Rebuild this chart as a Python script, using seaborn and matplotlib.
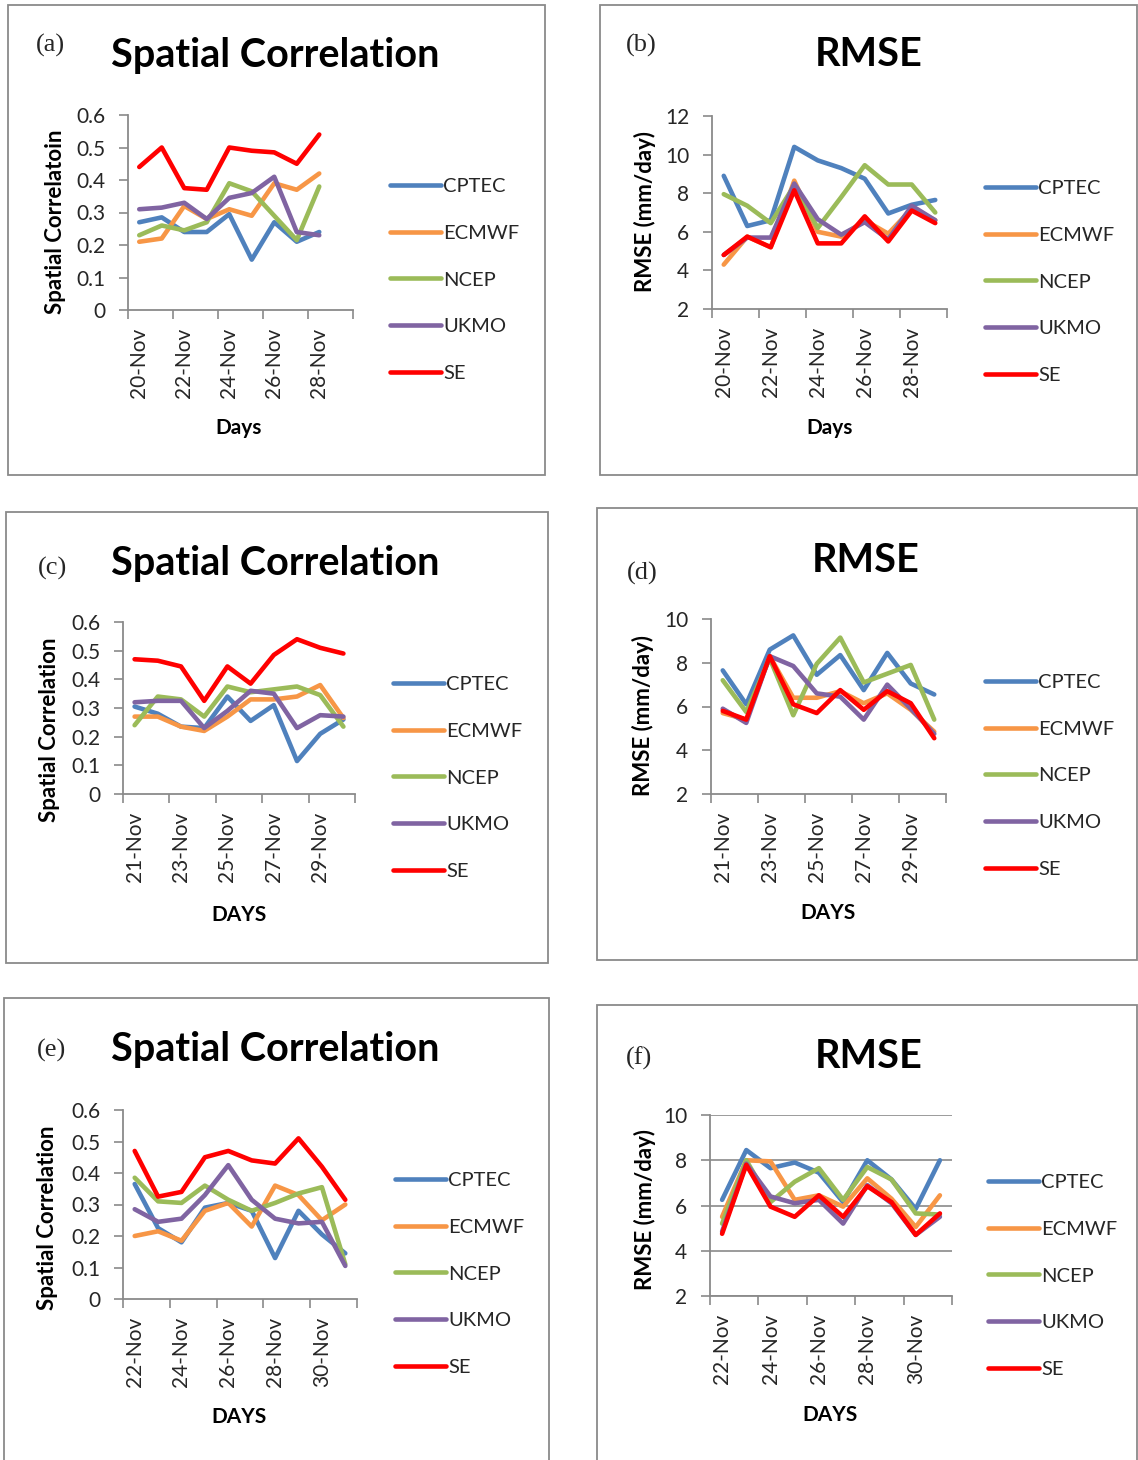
import matplotlib
matplotlib.use('Agg')
import matplotlib.pyplot as plt
from matplotlib.patches import Rectangle
import seaborn as sns
import pandas as pd

W, H = 1138, 1460

models = ['CPTEC', 'ECMWF', 'NCEP', 'UKMO', 'SE']
colors = ['#4F81BD', '#F79646', '#9BBB59', '#8064A2', '#FF0000']

days_a = ['20-Nov', '21-Nov', '22-Nov', '23-Nov', '24-Nov', '25-Nov', '26-Nov', '27-Nov', '28-Nov', '29-Nov']
days_c = ['21-Nov', '22-Nov', '23-Nov', '24-Nov', '25-Nov', '26-Nov', '27-Nov', '28-Nov', '29-Nov', '30-Nov']
days_e = ['22-Nov', '23-Nov', '24-Nov', '25-Nov', '26-Nov', '27-Nov', '28-Nov', '29-Nov', '30-Nov', '1-Dec']

# (a) spatial correlation
a_cptec = [0.27, 0.285, 0.24, 0.24, 0.295, 0.155, 0.27, 0.21, 0.24]
a_ecmwf = [0.21, 0.22, 0.32, 0.28, 0.31, 0.29, 0.39, 0.37, 0.42]
a_ncep = [0.23, 0.26, 0.245, 0.27, 0.39, 0.365, 0.29, 0.215, 0.38]
a_ukmo = [0.31, 0.315, 0.33, 0.28, 0.345, 0.36, 0.41, 0.24, 0.23]
a_se = [0.44, 0.50, 0.375, 0.37, 0.50, 0.49, 0.485, 0.45, 0.54]

# (b) rmse
b_cptec = [8.9, 6.3, 6.6, 10.4, 9.7, 9.3, 8.75, 6.95, 7.4, 7.65]
b_ecmwf = [4.3, 5.75, 5.2, 8.65, 6.0, 5.75, 6.6, 5.9, 7.2, 6.6]
b_ncep = [7.95, 7.35, 6.45, 8.4, 6.2, 7.8, 9.45, 8.45, 8.45, 7.0]
b_ukmo = [4.8, 5.7, 5.7, 8.5, 6.65, 5.85, 6.5, 5.6, 7.35, 6.6]
b_se = [4.8, 5.75, 5.2, 8.15, 5.4, 5.4, 6.8, 5.5, 7.1, 6.45]

# (c) spatial correlation
c_cptec = [0.305, 0.28, 0.235, 0.23, 0.34, 0.255, 0.31, 0.115, 0.21, 0.26]
c_ecmwf = [0.27, 0.27, 0.235, 0.22, 0.27, 0.33, 0.33, 0.34, 0.38, 0.265]
c_ncep = [0.24, 0.34, 0.33, 0.27, 0.375, 0.355, 0.365, 0.375, 0.345, 0.235]
c_ukmo = [0.32, 0.325, 0.325, 0.23, 0.29, 0.36, 0.35, 0.23, 0.275, 0.27]
c_se = [0.47, 0.465, 0.445, 0.325, 0.445, 0.385, 0.485, 0.54, 0.51, 0.49]

# (d) rmse
d_cptec = [7.65, 6.1, 8.6, 9.25, 7.45, 8.35, 6.75, 8.45, 7.05, 6.55]
d_ecmwf = [5.7, 5.4, 8.3, 6.4, 6.4, 6.7, 6.15, 6.6, 5.85, 4.85]
d_ncep = [7.2, 5.75, 8.2, 5.6, 7.95, 9.15, 7.1, 7.5, 7.9, 5.4]
d_ukmo = [5.9, 5.25, 8.3, 7.85, 6.6, 6.45, 5.4, 7.0, 5.9, 4.75]
d_se = [5.8, 5.4, 8.3, 6.1, 5.7, 6.75, 5.85, 6.7, 6.15, 4.55]

# (e) spatial correlation
e_cptec = [0.365, 0.225, 0.18, 0.29, 0.305, 0.28, 0.13, 0.28, 0.205, 0.145]
e_ecmwf = [0.2, 0.215, 0.185, 0.28, 0.305, 0.23, 0.36, 0.33, 0.25, 0.3]
e_ncep = [0.385, 0.31, 0.305, 0.36, 0.315, 0.28, 0.305, 0.335, 0.355, 0.11]
e_ukmo = [0.285, 0.245, 0.255, 0.33, 0.425, 0.315, 0.255, 0.24, 0.245, 0.105]
e_se = [0.47, 0.325, 0.34, 0.45, 0.47, 0.44, 0.43, 0.51, 0.42, 0.315]

# (f) rmse
f_cptec = [6.25, 8.45, 7.65, 7.9, 7.45, 6.15, 8.0, 7.15, 5.85, 8.0]
f_ecmwf = [5.5, 8.0, 7.95, 6.25, 6.45, 5.95, 7.2, 6.3, 5.05, 6.45]
f_ncep = [5.2, 8.0, 6.15, 7.05, 7.65, 6.25, 7.7, 7.15, 5.65, 5.6]
f_ukmo = [4.85, 7.85, 6.4, 6.1, 6.25, 5.2, 6.9, 6.1, 4.7, 5.5]
f_se = [4.75, 7.8, 5.95, 5.5, 6.45, 5.5, 6.85, 6.15, 4.7, 5.65]

sc_ticks = [0, 0.1, 0.2, 0.3, 0.4, 0.5, 0.6]
sc_ticklabels = ['0', '0.1', '0.2', '0.3', '0.4', '0.5', '0.6']
rmse_ticks_b = [2, 4, 6, 8, 10, 12]
rmse_ticks = [2, 4, 6, 8, 10]

sns.set_theme(style='white')
plt.rcParams['font.family'] = ['Lato', 'DejaVu Sans']

fig = plt.figure(figsize=(W / 100, H / 100), dpi=100)
GREY = '#8a8a8a'
TXT = '#262626'


def fx(x):
    return x / W


def fy(y):
    return 1 - y / H


def long_df(series):
    rows = []
    for name, vals in zip(models, series):
        for i, v in enumerate(vals):
            rows.append({'pos': i, 'val': v, 'model': name})
    return pd.DataFrame(rows)


panels = [
    dict(tag='(a)', series=[a_cptec, a_ecmwf, a_ncep, a_ukmo, a_se], days=days_a,
         box=(8, 5, 545, 475), plot=(128, 115, 353, 310), title='Spatial Correlation',
         ylabel='Spatial Correlatoin', xlabel='Days', ticks=sc_ticks, grid=False,
         tagxy=(50, 45), titlexy=(275, 55), ylxy=(55, 222), xlxy=(239, 428), leg=(390, 178)),
    dict(tag='(b)', series=[b_cptec, b_ecmwf, b_ncep, b_ukmo, b_se], days=days_a,
         box=(600, 5, 1137, 475), plot=(712, 116, 947, 309), title='RMSE',
         ylabel='RMSE (mm/day)', xlabel='Days', ticks=rmse_ticks_b, grid=False,
         tagxy=(641, 45), titlexy=(869, 55), ylxy=(645, 212), xlxy=(830, 428), leg=(985, 180)),
    dict(tag='(c)', series=[c_cptec, c_ecmwf, c_ncep, c_ukmo, c_se], days=days_c,
         box=(6, 512, 548, 963), plot=(123, 622, 355, 794), title='Spatial Correlation',
         ylabel='Spatial Correlation', xlabel='DAYS', ticks=sc_ticks, grid=False,
         tagxy=(52, 568), titlexy=(275, 563), ylxy=(50, 730), xlxy=(239, 915), leg=(393, 676)),
    dict(tag='(d)', series=[d_cptec, d_ecmwf, d_ncep, d_ukmo, d_se], days=days_c,
         box=(597, 508, 1137, 960), plot=(711, 619, 946, 794), title='RMSE',
         ylabel='RMSE (mm/day)', xlabel='DAYS', ticks=rmse_ticks, grid=False,
         tagxy=(642, 573), titlexy=(866, 560), ylxy=(643, 715), xlxy=(828, 913), leg=(985, 674)),
    dict(tag='(e)', series=[e_cptec, e_ecmwf, e_ncep, e_ukmo, e_se], days=days_e,
         box=(4, 998, 549, 1462), plot=(123, 1110, 357, 1299), title='Spatial Correlation',
         ylabel='Spatial Correlation', xlabel='DAYS', ticks=sc_ticks, grid=False,
         tagxy=(51, 1050), titlexy=(275, 1049), ylxy=(48, 1218), xlxy=(239, 1417), leg=(395, 1172)),
    dict(tag='(f)', series=[f_cptec, f_ecmwf, f_ncep, f_ukmo, f_se], days=days_e,
         box=(597, 1005, 1137, 1462), plot=(710, 1115, 952, 1296), title='RMSE',
         ylabel='RMSE (mm/day)', xlabel='DAYS', ticks=rmse_ticks, grid=True,
         tagxy=(639, 1058), titlexy=(869, 1057), ylxy=(645, 1210), xlxy=(830, 1415), leg=(988, 1174)),
]

for p in panels:
    l, t, r, b = p['box']
    fig.add_artist(Rectangle((fx(l), fy(b)), fx(r - l), (b - t) / H, transform=fig.transFigure,
                             fill=False, ec=GREY, lw=1.3))

    pl, pt, pr, pb = p['plot']
    ax = fig.add_axes([fx(pl), fy(pb), fx(pr - pl), (pb - pt) / H])
    df = long_df(p['series'])
    sns.lineplot(data=df, x='pos', y='val', hue='model', hue_order=models, palette=colors,
                 linewidth=3.3, errorbar=None, sort=False, ax=ax)

    ax.set_xlim(-0.5, 9.5)
    ax.set_ylim(p['ticks'][0], p['ticks'][-1])
    ax.set_yticks(p['ticks'])
    if p['ticks'] == sc_ticks:
        ax.set_yticklabels(sc_ticklabels)
    ax.set_xticks([-0.5, 1.5, 3.5, 5.5, 7.5, 9.5])
    ax.set_xticklabels([])
    ax.set_xticks(range(0, 10, 2), minor=True)
    ax.set_xticklabels(p['days'][0::2], minor=True, rotation=90)
    ax.tick_params(axis='x', which='minor', length=0, pad=13, labelsize=15, labelcolor=TXT)
    ax.tick_params(axis='x', which='major', length=6.5, width=1.2, color=GREY, direction='out')
    ax.tick_params(axis='y', length=6.5, width=1.2, color=GREY, direction='out', pad=10,
                   labelsize=15, labelcolor=TXT)
    ax.xaxis.set_ticks_position('bottom')
    ax.yaxis.set_ticks_position('left')
    ax.set_xlabel('')
    ax.set_ylabel('')
    for side in ['top', 'right']:
        ax.spines[side].set_visible(False)
    for side in ['left', 'bottom']:
        ax.spines[side].set_color(GREY)
        ax.spines[side].set_linewidth(1.3)
    ax.patch.set_alpha(0)
    if p['grid']:
        ax.yaxis.grid(True, color=GREY, lw=1.2)
        ax.set_axisbelow(True)

    handles, labels = ax.get_legend_handles_labels()
    ax.legend(handles, labels, loc='upper left', bbox_to_anchor=(fx(p['leg'][0]), fy(p['leg'][1])),
              bbox_transform=fig.transFigure, frameon=False, fontsize=14.5, handlelength=2.55,
              handletextpad=0.1, labelspacing=1.47, borderpad=0, borderaxespad=0,
              labelcolor=TXT)

    fig.text(fx(p['tagxy'][0]), fy(p['tagxy'][1]), p['tag'], family=['Liberation Serif'],
             fontsize=19, ha='center', va='center', color=TXT)
    fig.text(fx(p['titlexy'][0]), fy(p['titlexy'][1]), p['title'], fontsize=28.5,
             fontweight='bold', ha='center', va='center', color='black')
    fig.text(fx(p['ylxy'][0]), fy(p['ylxy'][1]), p['ylabel'], fontsize=16, fontweight='bold',
             rotation=90, ha='center', va='center', color='black')
    fig.text(fx(p['xlxy'][0]), fy(p['xlxy'][1]), p['xlabel'], fontsize=15, fontweight='bold',
             ha='center', va='center', color='black')

fig.savefig('out.png', dpi=100, facecolor='white')
